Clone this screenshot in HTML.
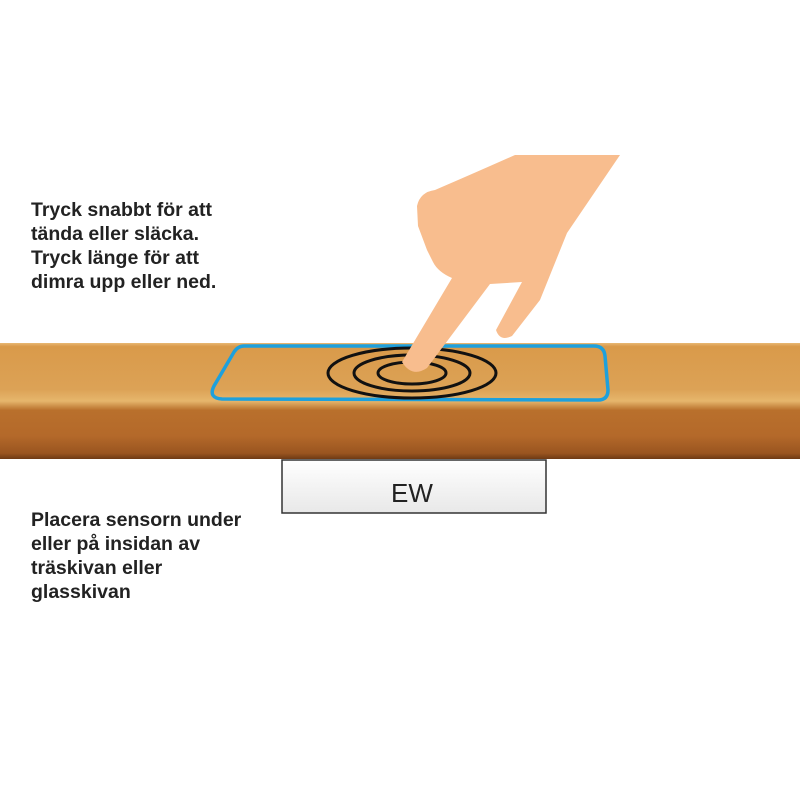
<!DOCTYPE html>
<html><head><meta charset="utf-8"><style>
body{margin:0;width:800px;height:800px;background:#fff;position:relative;overflow:hidden;font-family:"Liberation Sans",Arial,sans-serif}
.t{position:absolute;left:31px;font-weight:bold;font-size:19.5px;line-height:24px;color:#222;white-space:nowrap}
</style></head><body>
<svg width="800" height="800" style="position:absolute;left:0;top:0">
<defs>
<linearGradient id="w" x1="0" y1="0" x2="0" y2="1">
<stop offset="0" stop-color="#e9b874"/>
<stop offset="0.03" stop-color="#d99a4a"/>
<stop offset="0.4" stop-color="#dca256"/>
<stop offset="0.5" stop-color="#e6b66c"/>
<stop offset="0.58" stop-color="#b9702c"/>
<stop offset="0.8" stop-color="#b4692a"/>
<stop offset="0.95" stop-color="#9a5520"/>
<stop offset="1" stop-color="#6e3a14"/>
</linearGradient>
<linearGradient id="b" x1="0" y1="0" x2="0" y2="1">
<stop offset="0" stop-color="#fff"/><stop offset="1" stop-color="#e8e8e8"/>
</linearGradient>
</defs>
<rect x="0" y="343" width="800" height="116" fill="url(#w)"/>
<rect x="282" y="460" width="264" height="53" fill="url(#b)" stroke="#333" stroke-width="1.5"/>
<text x="412" y="502" font-family="Liberation Sans,sans-serif" font-size="26" fill="#222" text-anchor="middle">EW</text>
<path d="M244 346 L594 346 Q604 346 605 356 L608 390 Q608 400 598 400 L222 399 Q208 398 214 386 L234 352 Q238 346 244 346 Z" fill="none" stroke="#1ea0dc" stroke-width="3.5"/>
<g fill="none" stroke="#111" stroke-width="3">
<ellipse cx="412" cy="373" rx="84" ry="25"/>
<ellipse cx="412" cy="373" rx="58" ry="18"/>
<ellipse cx="412" cy="373" rx="34" ry="11"/>
</g>
<path d="M515 155 L620 155 L567 233 L540 300 L512 336 Q500 342 496 330 L522 282 L490 284 L427 368 Q412 378 402 362 L452 278 Q438 272 433 262 L427 250 L418 226 L417 206 Q420 192 435 190 Q470 175 515 155 Z" fill="#f8bd8e"/>
</svg>
<div class="t" style="top:198px">Tryck snabbt för att<br>tända eller släcka.<br>Tryck länge för att<br>dimra upp eller ned.</div>
<div class="t" style="top:508px">Placera sensorn under<br>eller på insidan av<br>träskivan eller<br>glasskivan</div>
</body></html>
